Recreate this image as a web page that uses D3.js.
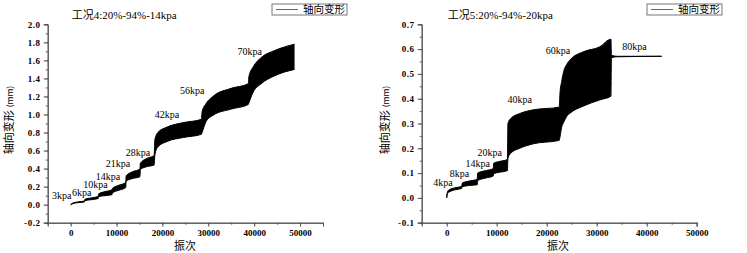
<!DOCTYPE html>
<html>
<head>
<meta charset="utf-8">
<script src="https://cdn.jsdelivr.net/npm/d3@7"></script>
<style>
    body { margin: 0; background: #fff; }
    svg { display: block; }
    text { font-family: "Liberation Serif", "Times New Roman", "DejaVu Serif", "Noto Sans CJK SC", serif; fill: #000; }
</style>
</head>
<body>
<div id="chart-area"></div>
<script>
/*
*    two cyclic loading panels, band = envelope of 轴向变形
*/

// 工况4 envelope (cycles, lower, upper)
var cyc4 = [0, 500, 1500, 3000, 3100, 4500, 6000, 6100, 7500, 9000, 9100, 10500, 12000,
    12100, 13500, 15100, 15200, 16500, 18200, 18350, 19000, 21000, 24600, 28500,
    28650, 29500, 31000, 35000, 38700, 38850, 39800, 41500, 44500, 48800];
var lo4 = [0, 0.012, 0.022, 0.03, 0.045, 0.055, 0.068, 0.09, 0.10, 0.11, 0.13, 0.16, 0.19,
    0.26, 0.29, 0.31, 0.39, 0.42, 0.44, 0.55, 0.64, 0.70, 0.745, 0.78,
    0.80, 0.92, 0.99, 1.06, 1.11, 1.13, 1.25, 1.34, 1.43, 1.50];
var hi4 = [0, 0.018, 0.03, 0.04, 0.06, 0.075, 0.09, 0.12, 0.145, 0.165, 0.18, 0.215, 0.245,
    0.32, 0.365, 0.395, 0.46, 0.51, 0.545, 0.72, 0.80, 0.86, 0.91, 0.946,
    1.03, 1.12, 1.20, 1.29, 1.34, 1.42, 1.53, 1.63, 1.71, 1.78];
var stage4 = ["3kpa", "6kpa", "10kpa", "14kpa", "21kpa", "28kpa", "42kpa", "56kpa", "70kpa"];
var stage4X = [-1960, 2390, 5430, 8150, 10330, 14670, 20980, 26520, 39020];
var stage4Y = [0.10, 0.133, 0.222, 0.315, 0.451, 0.576, 0.998, 1.264, 1.696];

// 工况5 envelope
var cyc5 = [0, 150, 600, 1500, 3000, 3100, 4500, 6100, 6200, 7800, 9300, 9400, 10800, 12150,
    12250, 12800, 14600, 17300, 22500, 22650, 23000, 23400, 24000, 24700, 27300, 30600, 32850,
    32950, 34000, 43000];
var lo5 = [0, 0.018, 0.025, 0.032, 0.038, 0.045, 0.05, 0.053, 0.07, 0.08, 0.088, 0.098, 0.104, 0.11,
    0.16, 0.18, 0.20, 0.218, 0.232, 0.245, 0.285, 0.305, 0.328, 0.342, 0.37, 0.395, 0.41,
    0.565, 0.569, 0.571];
var hi5 = [0, 0.025, 0.034, 0.04, 0.047, 0.06, 0.068, 0.075, 0.10, 0.11, 0.118, 0.14, 0.148, 0.155,
    0.30, 0.32, 0.34, 0.355, 0.366, 0.42, 0.47, 0.51, 0.538, 0.557, 0.589, 0.609, 0.64,
    0.575, 0.571, 0.571];
var stage5 = ["4kpa", "8kpa", "14kpa", "20kpa", "40kpa", "60kpa", "80kpa"];
var stage5X = [-740, 2560, 6200, 8600, 14600, 22260, 37560];
var stage5Y = [0.063, 0.100, 0.137, 0.185, 0.395, 0.593, 0.609];

var xTicks = [0, 10000, 20000, 30000, 40000, 50000];
var xTitle = "振次";
var yTitle = "轴向变形";
var legendLabel = "轴向变形";

var width = 747;
var height = 253;

var svg = d3.select("#chart-area").append("svg")
    .attr("width", width)
    .attr("height", height);

var fmt = (d) => d3.format(".1f")(d).replace("\u2212", "-");

function panel(opt) {
    var g = svg.append("g");

    var x = d3.scaleLinear()
        .domain(opt.xDomain)
        .range(opt.xRange);

    var y = d3.scaleLinear()
        .domain(opt.yDomain)
        .range([222.7, 24.3]);

    var data = opt.cyc.map((c, i) => ({ c: c, lo: opt.lo[i], hi: opt.hi[i] }));

    // minor ticks first
    g.append("g")
        .attr("transform", "translate(0, " + y.range()[0] + ")")
        .call(d3.axisBottom(x).tickValues(opt.xMinor).tickSize(2).tickFormat(""));
    g.append("g")
        .attr("transform", "translate(" + x.range()[0] + ", 0)")
        .call(d3.axisLeft(y).tickValues(opt.yMinor).tickSize(2).tickFormat(""));

    // x Axis
    g.append("g")
        .attr("class", "x axis")
        .attr("transform", "translate(0, " + y.range()[0] + ")")
        .call(d3.axisBottom(x).tickValues(xTicks).tickSize(4).tickPadding(3).tickFormat(d3.format("d")))
        .selectAll("text")
            .attr("font-size", 9)
            .attr("font-weight", "bold");

    // y Axis
    g.append("g")
        .attr("class", "y axis")
        .attr("transform", "translate(" + x.range()[0] + ", 0)")
        .call(d3.axisLeft(y).tickValues(opt.yTicks).tickSize(4).tickPadding(3).tickFormat(fmt))
        .selectAll("text")
            .attr("font-size", 9)
            .attr("font-weight", "bold")
            .attr("letter-spacing", 0.6);

    g.selectAll(".domain, .tick line")
        .attr("stroke", "#555");
    g.selectAll(".tick text")
        .attr("fill", "#000");

    // band
    g.append("path")
        .datum(data)
        .attr("fill", "#000")
        .attr("d", d3.area()
            .x((d) => x(d.c))
            .y0((d) => y(d.lo))
            .y1((d) => y(d.hi))
            .curve(d3.curveMonotoneX));

    ["lo", "hi"].forEach((k) => {
        g.append("path")
            .datum(data)
            .attr("fill", "none")
            .attr("stroke", "#000")
            .attr("stroke-width", 1)
            .attr("d", d3.line()
                .x((d) => x(d.c))
                .y((d) => y(d[k]))
                .curve(d3.curveMonotoneX));
    });

    // stage labels
    g.selectAll(".stage")
        .data(opt.stages)
        .enter()
        .append("text")
            .attr("class", "stage")
            .attr("x", (d, i) => x(opt.stageX[i]))
            .attr("y", (d, i) => y(opt.stageY[i]))
            .attr("dy", "0.35em")
            .attr("text-anchor", "middle")
            .attr("font-size", 10)
            .text((d) => d);

    // title
    g.append("text")
        .attr("x", x(0) + 1)
        .attr("y", 19)
        .attr("font-size", 11)
        .text(opt.title);

    // x Label
    g.append("text")
        .attr("x", opt.xLabelX)
        .attr("y", 249.5)
        .attr("text-anchor", "middle")
        .attr("font-size", 11)
        .style("font-family", "'Noto Sans CJK SC'")
        .text(xTitle);

    // y Label
    var yl = g.append("text")
        .attr("transform", "translate(" + opt.yLabelX + ", 120) rotate(-90)")
        .attr("text-anchor", "middle")
        .style("font-family", "'Noto Sans CJK SC'")
        .attr("font-size", 11);
    yl.append("tspan").text(yTitle);
    yl.append("tspan").attr("font-size", 8.5).attr("dx", 3).text("(mm)");

    // legend
    var lg = g.append("g")
        .attr("transform", "translate(" + opt.legendX + ", 4)");
    lg.append("rect")
        .attr("width", 75)
        .attr("height", 11)
        .attr("fill", "#fff")
        .attr("stroke", "#777");
    lg.append("line")
        .attr("x1", 4).attr("x2", 26)
        .attr("y1", 5.5).attr("y2", 5.5)
        .attr("stroke", "#666");
    lg.append("text")
        .attr("x", 31)
        .attr("y", 5.5)
        .attr("dy", "0.36em")
        .attr("font-size", 10.5)
        .style("font-family", "'Noto Sans CJK SC'")
        .attr("fill", "#333")
        .text(legendLabel);
}

panel({
    xDomain: [-5000, 55000], xRange: [47.7, 323],
    yDomain: [-0.2, 2.0],
    xMinor: d3.range(-5000, 55001, 5000),
    yTicks: d3.range(-0.2, 2.01, 0.2).map((d) => +d.toFixed(1)),
    yMinor: d3.range(-0.2, 2.01, 0.1).map((d) => +d.toFixed(2)),
    cyc: cyc4, lo: lo4, hi: hi4,
    stages: stage4, stageX: stage4X, stageY: stage4Y,
    title: "工况4:20%-94%-14kpa",
    xLabelX: 185, yLabelX: 13, legendX: 272
});

panel({
    xDomain: [-5000, 50000], xRange: [421.7, 696.7],
    yDomain: [-0.1, 0.7],
    xMinor: d3.range(-5000, 50001, 5000),
    yTicks: d3.range(-0.1, 0.71, 0.1).map((d) => +d.toFixed(1)),
    yMinor: d3.range(-0.1, 0.71, 0.05).map((d) => +d.toFixed(2)),
    cyc: cyc5, lo: lo5, hi: hi5,
    stages: stage5, stageX: stage5X, stageY: stage5Y,
    title: "工况5:20%-94%-20kpa",
    xLabelX: 558, yLabelX: 389, legendX: 647
});
</script>
</body>
</html>
